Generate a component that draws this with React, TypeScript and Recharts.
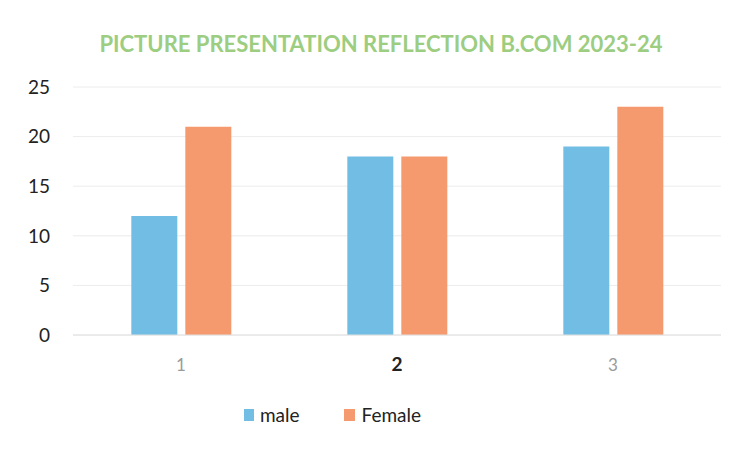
import React from "react";
import { BarChart, Bar, XAxis, YAxis, CartesianGrid } from "recharts";

const categories = ["1", "2", "3"];
const maleValues = [12, 18, 19];
const femaleValues = [21, 18, 23];
const yTicks = [0, 5, 10, 15, 20, 25];
const title = "PICTURE PRESENTATION REFLECTION B.COM 2023-24";

const data = categories.map((c, i) => ({ name: c, male: maleValues[i], Female: femaleValues[i] }));

const BLUE = "#72BDE3";
const ORANGE = "#F5996E";
const FONT = "Lato, 'Open Sans', sans-serif";

const XTick = (props: any) => {
  const { x, y, payload } = props;
  const bold = payload.value === "2";
  return (
    <text
      x={x}
      y={y}
      dy={28}
      textAnchor="middle"
      fontFamily={FONT}
      fontSize={bold ? 19 : 17}
      fontWeight={bold ? 700 : 400}
      fill={bold ? "#222" : "#9a9a9a"}
    >
      {payload.value}
    </text>
  );
};

export default function App() {
  return (
    <div style={{ position: "absolute", left: 0, top: 0, width: 737, height: 450, background: "#fff" }}>
      <div
        style={{
          position: "absolute",
          left: 0,
          top: 30,
          width: 762,
          textAlign: "center",
          fontFamily: FONT,
          fontWeight: 700,
          fontSize: 22,
          color: "#9CCD80",
          letterSpacing: 0,
        }}
      >
        {title}
      </div>
      <BarChart
        width={737}
        height={450}
        data={data}
        margin={{ top: 87, right: 16, bottom: 75, left: 0 }}
        barCategoryGap="27%"
        barGap={8}
      >
        <CartesianGrid vertical={false} stroke="#ececec" />
        <XAxis
          dataKey="name"
          axisLine={{ stroke: "#e0e0e0" }}
          tickLine={false}
          tick={<XTick />}
          height={40}
        />
        <YAxis
          width={73}
          domain={[0, 25]}
          ticks={yTicks}
          axisLine={false}
          tickLine={false}
          tickMargin={17}
          tick={{ fontFamily: FONT, fontSize: 19, fill: "#222" }}
        />
        <Bar dataKey="male" fill={BLUE} isAnimationActive={false} />
        <Bar dataKey="Female" fill={ORANGE} isAnimationActive={false} />
      </BarChart>
      <div
        style={{
          position: "absolute",
          left: 0,
          top: 403,
          width: 665,
          display: "flex",
          justifyContent: "center",
          alignItems: "center",
          fontFamily: FONT,
          fontSize: 19,
          color: "#222",
        }}
      >
        <span style={{ display: "inline-block", width: 10, height: 12, background: BLUE, marginRight: 6 }} />
        <span style={{ marginRight: 44 }}>male</span>
        <span style={{ display: "inline-block", width: 11, height: 12, background: ORANGE, marginRight: 7 }} />
        <span>Female</span>
      </div>
    </div>
  );
}
